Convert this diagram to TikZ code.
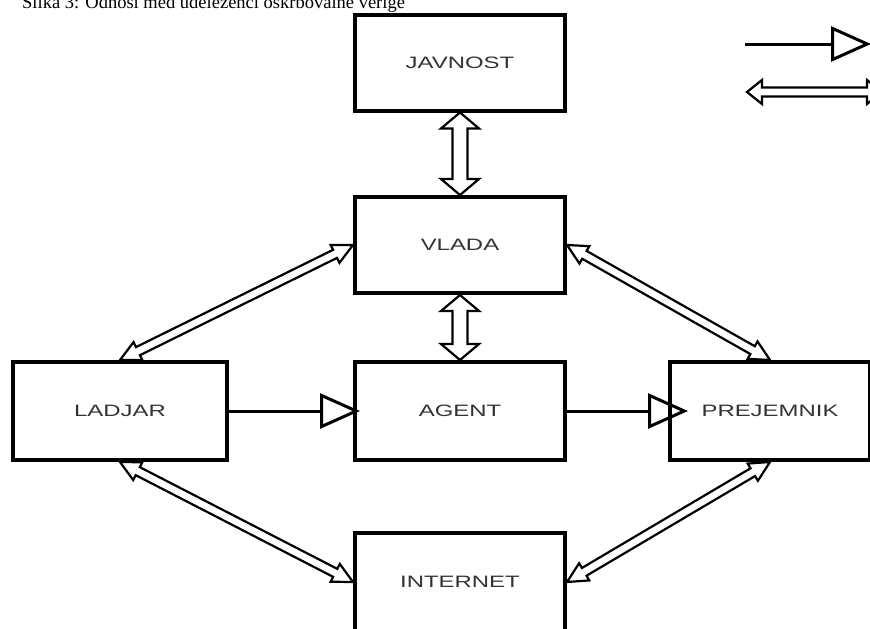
\documentclass[tikz,border=0pt]{standalone}
\usepackage{fontspec}
\usepackage{graphicx}
\setmainfont{Liberation Serif}
\newfontfamily\lblfont{Liberation Sans}
\usetikzlibrary{arrows.meta,calc}
\newcommand\lbl[1]{\scalebox{1.45}[1]{#1}}
\newcommand\dblarr[5]{%
  \coordinate (da) at ($(#1)!#3!(#2)$);
  \coordinate (db) at ($(#2)!#3!(#1)$);
  \draw[dblarrow] (#1) -- ($(da)!#4!90:(#2)$) -- ($(da)!#5!90:(#2)$)
    -- ($(db)!#5!-90:(#1)$) -- ($(db)!#4!-90:(#1)$) -- (#2)
    -- ($(db)!#4!90:(#1)$) -- ($(db)!#5!90:(#1)$)
    -- ($(da)!#5!-90:(#2)$) -- ($(da)!#4!-90:(#2)$) -- cycle;}
\tikzset{
  box/.style={draw=black, line width=4pt, fill=white, inner sep=0pt,
    minimum width=210pt, minimum height=96pt, text=black!80,
    font=\lblfont\fontsize{16.5}{19}\selectfont},
  dblarrow/.style={draw=black, fill=white, line width=2.2pt, line join=miter},
  sarrow/.style={draw=black, line width=3pt,
    -{Triangle[open,length=40pt,width=35pt,line width=3pt]}},
}
\begin{document}
\begin{tikzpicture}[x=1pt,y=-1pt]
\useasboundingbox (0,0) rectangle (870,629);
\clip (0,0) rectangle (870,629);
\fill[white] (0,0) rectangle (870,629);
% title (cut off at top, as in the reference)
\node[anchor=base west, inner sep=0pt, font=\fontsize{18.5}{20}\selectfont] (title) at (22,9)
  {Slika 3: Odnosi med udeleženci oskrbovalne verige};
% boxes
\node[box] (javnost) at (460,62.5) {\lbl{JAVNOST}};
\node[box] (vlada) at (460,245) {\lbl{VLADA}};
\node[box, minimum width=214pt, minimum height=98pt] (ladjar) at (120,411) {\lbl{LADJAR}};
\node[box, minimum height=98pt] (agent) at (460,411) {\lbl{AGENT}};
\node[box, minimum width=200pt, minimum height=98pt] (prejemnik) at (770,411) {\lbl{PREJEMNIK}};
\node[box, minimum height=98pt] (internet) at (460,582) {\lbl{INTERNET}};
% vertical double arrows
\dblarr{javnost.south}{vlada.north}{16pt}{19pt}{7.5pt}
\dblarr{vlada.south}{agent.north}{16pt}{19pt}{7.5pt}
% diagonal double arrows
\dblarr{ladjar.north}{vlada.west}{20pt}{10pt}{4.5pt}
\dblarr{vlada.east}{prejemnik.north}{20pt}{10pt}{4.5pt}
\dblarr{ladjar.south}{internet.west}{20pt}{10pt}{4.5pt}
\dblarr{internet.east}{prejemnik.south}{20pt}{10pt}{4.5pt}
% single arrows
\draw[sarrow, shorten >=-7pt] (ladjar.east) -- (agent.west);
\draw[sarrow, shorten >=-20pt] (agent.east) -- (prejemnik.west);
% legend
\coordinate (ls1) at (745,44);
\coordinate (ls2) at (871,44);
\draw[sarrow] (ls1) -- (ls2);
\coordinate (ld1) at (747,92);
\coordinate (ld2) at (882,92);
\dblarr{ld1}{ld2}{15pt}{12pt}{4.5pt}
\end{tikzpicture}
\end{document}
